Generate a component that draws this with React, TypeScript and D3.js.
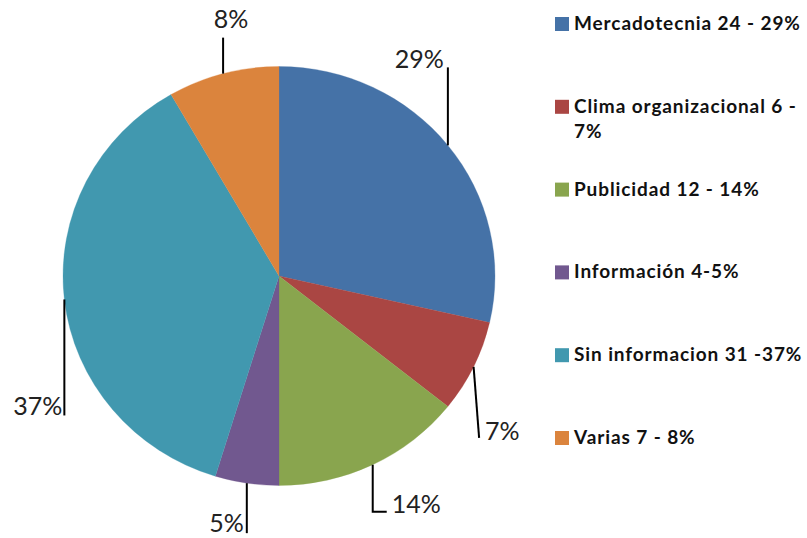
import * as d3 from 'd3'

const categories = ['Mercadotecnia', 'Clima organizacional', 'Publicidad', 'Información', 'Sin informacion', 'Varias']
const values = [24, 6, 12, 4, 31, 7]
const percentLabels = ['29%', '7%', '14%', '5%', '37%', '8%']
const legendLines = [
  ['Mercadotecnia 24 - 29%'],
  ['Clima organizacional 6 -', '7%'],
  ['Publicidad 12 - 14%'],
  ['Información 4-5%'],
  ['Sin informacion 31 -37%'],
  ['Varias 7 - 8%'],
]
const colors = ['#4572A7', '#AA4643', '#89A54E', '#71588F', '#4198AF', '#DB843D']

// leader line bends (relative to arc point) and text placement (relative to the last bend)
const leaders = [
  { pts: [[0, -78]], anchor: 'end', tx: -4, ty: 1 },
  { pts: [[5.5, 71]], anchor: 'start', tx: 6, ty: 2 },
  { pts: [[0, 47], [14, 47]], anchor: 'start', tx: 5, ty: 1 },
  { pts: [[0, 50]], anchor: 'end', tx: -3, ty: -1 },
  { pts: [[0, 116]], anchor: 'end', tx: -2, ty: 0 },
  { pts: [[0, -36]], anchor: 'middle', tx: 8, ty: -10 },
]

const W = 807
const H = 538
const cx = 279
const cy = 276
const radius = 216
const squash = 209.5 / 216

export default function App() {
  const data = categories.map((c, i) => ({ name: c, value: values[i], i }))
  const pie = d3.pie<any>().value(d => d.value).sort(null)
  const arcs = pie(data)
  const arc = d3.arc<any>().innerRadius(0).outerRadius(radius)

  const legendY = d3.scalePoint<number>().domain(d3.range(categories.length)).range([24, 438])

  return (
    <div style={{ position: 'fixed', left: 0, top: 0 }}>
      <svg width={W} height={H} style={{ display: 'block', background: '#fff' }}>
        <g transform={`translate(${cx},${cy})`}>
          <g transform={`scale(1,${squash})`}>
            {arcs.map((a, i) => (
              <path key={i} d={arc(a) || ''} fill={colors[i]} stroke={colors[i]} strokeWidth={0.3} />
            ))}
          </g>
          {arcs.map((a, i) => {
            const mid = (a.startAngle + a.endAngle) / 2
            const x0 = Math.sin(mid) * radius
            const y0 = -Math.cos(mid) * radius * squash
            const L = leaders[i]
            const pts = [[x0, y0], ...L.pts.map(p => [x0 + p[0], y0 + p[1]])]
            const last = pts[pts.length - 1]
            return (
              <g key={'l' + i}>
                <path d={d3.line()(pts as [number, number][]) || ''} fill="none" stroke="#000" strokeWidth={2} />
                <text
                  x={last[0] + L.tx}
                  y={last[1] + L.ty}
                  textAnchor={L.anchor as any}
                  fontFamily="Lato, 'Open Sans', sans-serif"
                  fontSize={25}
                  fill="#222"
                >
                  {percentLabels[i]}
                </text>
              </g>
            )
          })}
        </g>
        <g>
          {legendLines.map((lines, i) => {
            const y = legendY(i) as number
            return (
              <g key={'g' + i}>
                <rect x={555} y={y - 7} width={14} height={14} fill={colors[i]} />
                {lines.map((t, j) => (
                  <text
                    key={j}
                    x={574}
                    y={y + 6 + j * 25}
                    fontFamily="Lato, 'Open Sans', sans-serif"
                    fontWeight="bold"
                    fontSize={19}
                    letterSpacing={0.9}
                    fill="#111"
                  >
                    {t}
                  </text>
                ))}
              </g>
            )
          })}
        </g>
      </svg>
    </div>
  )
}
